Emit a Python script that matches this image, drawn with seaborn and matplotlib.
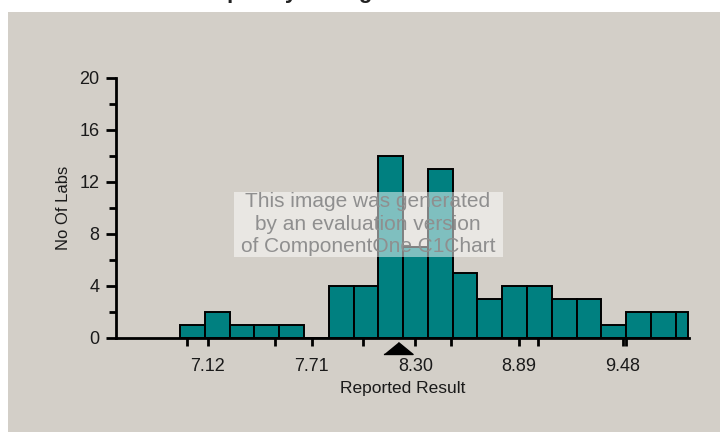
import matplotlib
matplotlib.use("Agg")
import matplotlib.pyplot as plt
from matplotlib.patches import Rectangle
from matplotlib.ticker import FixedLocator, MultipleLocator
import matplotlib.transforms as mtransforms
import numpy as np
import pandas as pd
import seaborn as sns

# Histogram of reported results
bin_start = 6.961
bin_width = 0.141
counts = [1, 2, 1, 1, 1, 0, 4, 4, 14, 7, 13, 5, 3, 4, 4, 3, 3, 1, 2, 2, 2]
labelled_ticks = [7.12, 7.71, 8.30, 8.89, 9.48]
half_unit_ticks = [7.0, 7.5, 8.0, 8.5, 9.0, 9.5]
assigned_value = 8.2
x_range = (6.597, 9.856)
y_range = (0, 20)

edges = bin_start + bin_width * np.arange(len(counts) + 1)
# the last bin is cut at the end of the axis
edges[-1] = min(edges[-1], x_range[1] - 0.004)
centers = (edges[:-1] + edges[1:]) / 2
hist_df = pd.DataFrame({"result": centers, "labs": counts})

sns.set_style("ticks")
plt.rcParams["font.family"] = ["Liberation Sans", "DejaVu Sans"]

W, H = 720, 432
fig = plt.figure(figsize=(W / 100, H / 100), dpi=100, facecolor="white")

# grey chart panel
fig.patches.append(Rectangle((8 / W, 0), 1 - 8 / W, 1 - 12 / H,
                             transform=fig.transFigure, facecolor="#d3cfc8",
                             edgecolor="none", zorder=-5))

fig.text(185 / W, 1 + 1.5 / H, "Frequency Histogram", fontsize=16,
         fontweight="bold", ha="left", va="baseline", color="#222222")

ax = fig.add_axes([116 / W, 1 - 338 / H, (689 - 116) / W, 260 / H])
ax.set_facecolor("none")

sns.histplot(data=hist_df, x="result", weights="labs", bins=list(edges),
             color="#008080", edgecolor="black", linewidth=1.4, alpha=1.0,
             ax=ax, zorder=2)

ax.set_xlim(*x_range)
ax.set_ylim(*y_range)

ax.xaxis.set_major_locator(FixedLocator(labelled_ticks))
ax.set_xticklabels([f"{v:.2f}" for v in labelled_ticks])
ax.xaxis.set_minor_locator(FixedLocator(half_unit_ticks))
ax.yaxis.set_major_locator(MultipleLocator(4))
ax.yaxis.set_minor_locator(MultipleLocator(2))

ax.tick_params(axis="x", which="both", direction="out", length=6, width=2,
               color="black", pad=8.5, labelsize=13, labelcolor="#1a1a1a")
ax.tick_params(axis="y", which="major", direction="out", length=7, width=2,
               color="black", pad=5, labelsize=13, labelcolor="#1a1a1a")
ax.tick_params(axis="y", which="minor", direction="out", length=5, width=2,
               color="black")

for side in ("top", "right"):
    ax.spines[side].set_visible(False)
for side in ("left", "bottom"):
    ax.spines[side].set_linewidth(2)
    ax.spines[side].set_color("black")

ax.set_xlabel("Reported Result", fontsize=12.5, color="#1a1a1a", labelpad=4)
ax.set_ylabel("No Of Labs", fontsize=12, color="#1a1a1a", labelpad=6)

# assigned value marker under the axis
trans = mtransforms.blended_transform_factory(ax.transData, ax.transAxes)
ax.plot([assigned_value], [-0.038], transform=trans, clip_on=False,
        marker=[(-1, -0.41), (1, -0.41), (0, 0.41)], markersize=21,
        color="black", linestyle="none", zorder=5)

# evaluation watermark
fig.patches.append(Rectangle((234 / W, 1 - 257 / H), (503 - 234) / W, 65 / H,
                             transform=fig.transFigure, facecolor="white",
                             alpha=0.5, edgecolor="none", zorder=10))
fig.text(368 / W, 1 - 224 / H,
         "This image was generated\nby an evaluation version\nof ComponentOne C1Chart",
         ha="center", va="center", fontsize=15, color="#8f8f8f",
         linespacing=1.22, zorder=11)

fig.savefig("out.png", dpi=100, facecolor="white")
